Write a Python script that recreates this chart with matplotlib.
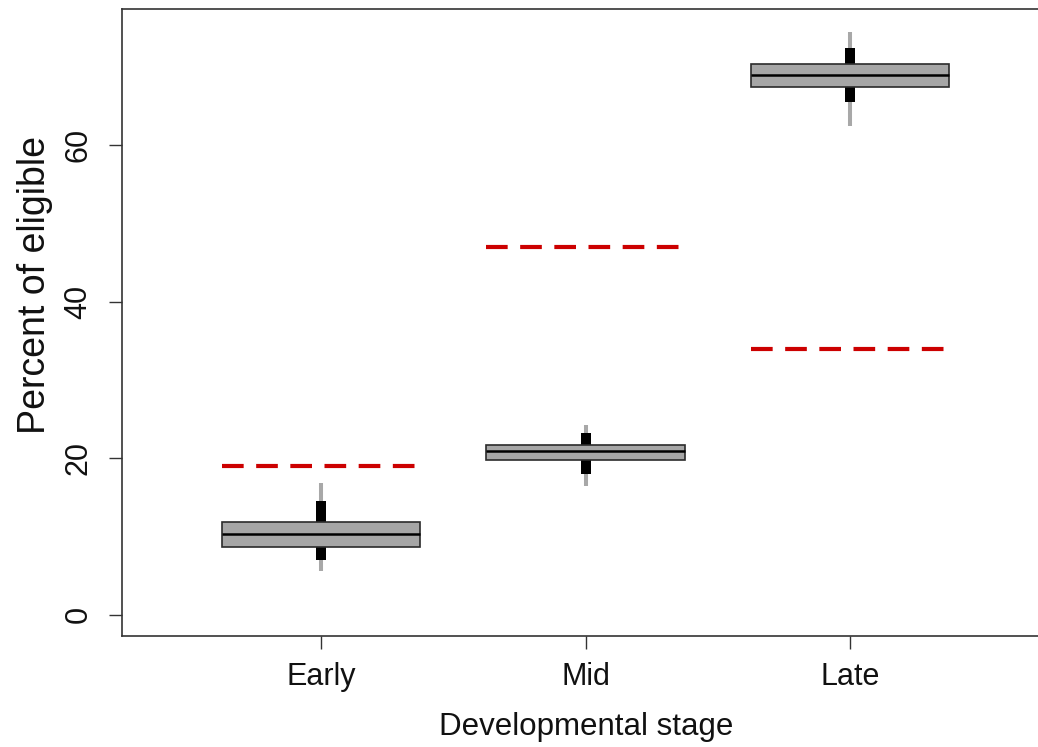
import matplotlib
matplotlib.use("Agg")
from matplotlib import pyplot as plt

# data
stages = ["Early", "Mid", "Late"]
whisker_lo = [5.6, 16.5, 62.5]
whisker_hi = [16.9, 24.2, 74.5]
inner_lo = [7.0, 18.0, 65.5]
inner_hi = [14.5, 23.2, 72.4]
box_lo = [8.7, 19.75, 67.45]
box_hi = [11.9, 21.65, 70.4]
medians = [10.3, 20.9, 69.0]
expected = [19.0, 47.0, 34.0]

plt.rcParams['font.family'] = ['Liberation Sans', 'DejaVu Sans']

fig = plt.figure(figsize=(10.38, 7.47), dpi=100)
ax = fig.add_axes([122/1038, 111/747, 920/1038, 627/747])

xs = [1, 2, 3]
w = 0.75

# gray thin line and black thick bar behind the box
ax.vlines(xs, whisker_lo, whisker_hi, colors="#a8a8a8", linewidth=2.9, zorder=2)
ax.vlines(xs, inner_lo, inner_hi, colors="black", linewidth=7.2, zorder=3)

heights = [h - l for h, l in zip(box_hi, box_lo)]
ax.bar(xs, heights, bottom=box_lo, width=w, color="#a6a6a6",
       edgecolor="#2b2b2b", linewidth=1.2, zorder=4)
ax.hlines(medians, [x - w/2 for x in xs], [x + w/2 for x in xs],
          colors="black", linewidth=1.8, zorder=5)

# red dashed reference lines
for x, e in zip(xs, expected):
    ax.plot([x - w/2, x + w/2], [e, e], color="#cc0000", linewidth=3.0,
            dashes=(5.2, 3.0), solid_capstyle="butt", dash_capstyle="butt", zorder=5)

ax.set_xlim(0.2476, 0.2476 + 920/264.5)
ax.set_ylim(-2.69, 77.38)

ax.set_xticks(xs)
ax.set_xticklabels(stages)
ax.set_yticks([0, 20, 40, 60])
ax.set_yticklabels(["0", "20", "40", "60"], rotation=90, va="center")

ax.tick_params(axis="both", length=9.4, width=1, color="#333333",
               labelsize=22, labelcolor="#111111")
ax.tick_params(axis="x", pad=9.5)
ax.tick_params(axis="y", pad=11)

for s in ax.spines.values():
    s.set_color("#333333")
    s.set_linewidth(1.2)

fig.text(586/1038, 12/747, "Developmental stage", ha="center", va="baseline",
         fontsize=22.5, color="#111111")
fig.text(35/1038, 1 - 285/747, "Percent of eligible", ha="center", va="center",
         rotation=90, fontsize=27, color="#111111")

fig.savefig("out.png", dpi=100)
